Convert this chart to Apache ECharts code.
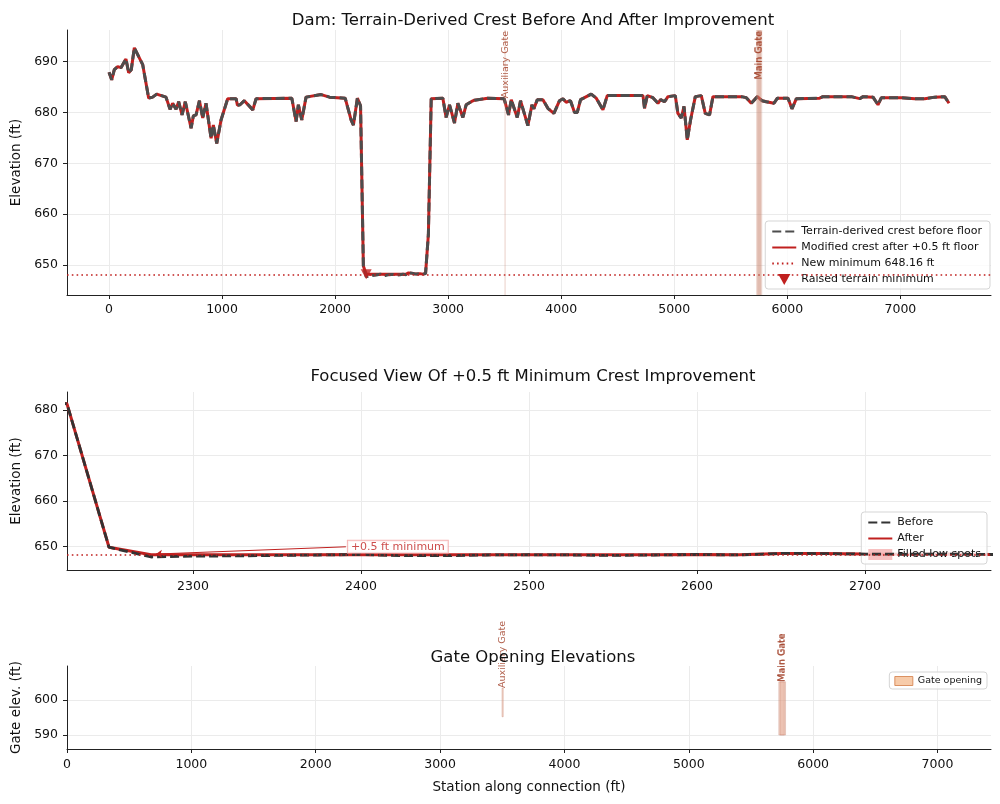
<!DOCTYPE html>
<html>
<head>
<meta charset="utf-8">
<script src="https://cdn.jsdelivr.net/npm/echarts@6.0.0/dist/echarts.min.js"></script>
<style>
  html, body { margin: 0; padding: 0; background: #fff; }
  #main { width: 1000px; height: 804px; }
</style>
</head>
<body>
<div id="main"></div>
<script>
// station along the connection (ft) and terrain-derived crest before the floor (ft)
var stations = [
    0, 24, 47, 77, 106, 150, 174, 197, 224, 298, 351, 386, 422, 504, 540, 563, 593, 616, 646, 675,
    726, 746, 770, 800, 829, 858, 903, 923, 953, 991, 1050, 1124, 1136, 1159, 1197, 1272, 1301, 1617, 1655, 1675,
    1705, 1743, 1876, 1950, 2089, 2142, 2162, 2197, 2225, 2250, 2275, 2300, 2325, 2350, 2375, 2400, 2425, 2450, 2475, 2500,
    2525, 2550, 2575, 2600, 2625, 2650, 2675, 2700, 2725, 2750, 2775, 2800, 2825, 2850, 2953, 2982, 3012, 3056, 3086, 3130,
    3159, 3204, 3233, 3351, 3495, 3534, 3558, 3611, 3640, 3705, 3741, 3758, 3788, 3838, 3882, 3935, 3985, 4015, 4044, 4082,
    4118, 4142, 4171, 4206, 4265, 4310, 4369, 4407, 4723, 4737, 4761, 4811, 4856, 4879, 4914, 4944, 5009, 5032, 5062, 5086,
    5115, 5144, 5186, 5239, 5274, 5312, 5342, 5593, 5637, 5681, 5735, 5776, 5814, 5882, 5912, 6006, 6041, 6080, 6286, 6315,
    6566, 6640, 6670, 6758, 6802, 6832, 7009, 7127, 7215, 7304, 7392, 7430
];
var crestBefore = [
    687.9, 686.4, 688.4, 689.0, 688.8, 690.5, 687.8, 688.4, 692.7, 689.4, 682.8, 683.0, 683.6, 683.0, 680.6, 681.8, 680.6, 682.1, 679.5, 682.1,
    676.9, 679.3, 679.5, 682.3, 678.9, 681.8, 674.9, 677.5, 673.9, 678.5, 682.7, 682.7, 681.4, 681.5, 682.3, 680.5, 682.7, 682.8, 678.2, 681.5,
    678.5, 683.0, 683.5, 683.0, 682.8, 678.5, 677.5, 682.8, 681.3, 649.8, 647.66, 647.85, 647.9, 648.0, 648.1, 648.2, 647.95, 647.95, 648.1, 648.15,
    648.1, 648.0, 648.1, 648.2, 648.1, 648.45, 648.4, 648.3, 648.25, 648.3, 648.2, 648.3, 656.0, 682.7, 682.8, 679.0, 681.5, 677.9, 681.8, 679.0,
    681.5, 682.1, 682.4, 682.8, 682.7, 679.5, 682.5, 679.0, 682.3, 677.4, 681.5, 680.7, 682.5, 682.5, 680.8, 679.8, 682.3, 682.7, 682.0, 682.3,
    680.0, 680.0, 682.5, 682.9, 683.6, 682.8, 680.5, 683.3, 683.3, 680.8, 683.3, 682.9, 681.8, 682.5, 682.1, 683.1, 683.3, 679.8, 678.9, 681.2,
    674.6, 678.5, 683.1, 683.3, 679.8, 679.5, 683.1, 683.1, 682.9, 681.8, 683.1, 682.3, 682.1, 681.8, 682.8, 682.8, 680.7, 682.7, 682.8, 683.1,
    683.1, 682.7, 683.1, 683.0, 681.5, 682.9, 682.9, 682.7, 682.7, 683.0, 683.1, 681.8
];

// low spots that were raised to the new floor
var newMinimum = 648.16;
var raisedStations = [2275, 2300, 2325, 2350, 2375, 2425, 2450, 2475, 2500, 2525, 2550, 2575, 2625];
var raisedMinStation = 2275;

// gate openings
var gateNames = ['Auxiliary Gate', 'Main Gate', 'Main Gate'];
var gateStart = [3498, 5724, 5734];
var gateEnd = [3503, 5768, 5778];
var gateBottom = [595.2, 590, 590];
var gateTop = [603.4, 605.2, 605.2];

// annotation in the focused view
var annotText = '+0.5 ft minimum';
var annotFrom = [2391, 649.9];
var annotTo = [2278, 648.3];

// tick labels
var topXTicks = [0, 1000, 2000, 3000, 4000, 5000, 6000, 7000];
var topYTicks = [650, 660, 670, 680, 690];
var focusXTicks = [2300, 2400, 2500, 2600, 2700];
var focusYTicks = [650, 660, 670, 680];
var gateXTicks = [0, 1000, 2000, 3000, 4000, 5000, 6000, 7000];
var gateYTicks = [590, 600];

var FONT = 'DejaVu Sans';
var RED = '#c0201f';
var GATE_TXT = '#a3432c';

var crestAfter = crestBefore.slice();
raisedStations.forEach(function (s) {
    var i = stations.indexOf(s);
    if (i >= 0) crestAfter[i] = newMinimum;
});

var beforeData = stations.map(function (s, i) { return [s, crestBefore[i]]; });
var afterData = stations.map(function (s, i) { return [s, crestAfter[i]]; });
var gateData = gateNames.map(function (n, i) { return [gateStart[i], gateEnd[i], gateBottom[i], gateTop[i]]; });

// filled low spots (stacked band between before and after)
var lowBase = [], lowDiff = [];
stations.forEach(function (s, i) {
    if (s >= 2225 && s <= 2800) {
        lowBase.push([s, crestBefore[i]]);
        lowDiff.push([s, +(crestAfter[i] - crestBefore[i]).toFixed(3)]);
    }
});

function plain(v) { return String(v); }

function xAxisCfg(idx, min, max, ticks, margin, extra) {
    var a = {
        type: 'value', gridIndex: idx, min: min, max: max,
        axisLine: { show: true, onZero: false, lineStyle: { color: '#222', width: 1 } },
        axisTick: { show: true, length: 4, customValues: ticks, lineStyle: { color: '#222' } },
        axisLabel: { customValues: ticks, formatter: plain, color: '#111', fontSize: 12.5, margin: margin, fontFamily: FONT },
        splitLine: { show: true, lineStyle: { color: '#ebebeb', width: 1 } }
    };
    return Object.assign(a, extra || {});
}
function yAxisCfg(idx, min, max, ticks, name) {
    return {
        type: 'value', gridIndex: idx, min: min, max: max,
        name: name, nameLocation: 'middle', nameGap: 44,
        nameTextStyle: { fontSize: 13.5, color: '#111', fontFamily: FONT },
        axisLine: { show: true, onZero: false, lineStyle: { color: '#222', width: 1 } },
        axisTick: { show: true, length: 4, customValues: ticks, lineStyle: { color: '#222' } },
        axisLabel: { customValues: ticks, formatter: plain, color: '#111', fontSize: 12.5, margin: 9, fontFamily: FONT },
        splitLine: { show: true, lineStyle: { color: '#ebebeb', width: 1 } }
    };
}

function renderGateBand(params, api) {
    var cs = params.coordSys;
    var x0 = api.coord([api.value(0), api.value(2)])[0];
    var x1 = api.coord([api.value(1), api.value(2)])[0];
    var w = Math.max(x1 - x0, 1.2);
    return {
        type: 'group',
        children: [
            { type: 'rect', shape: { x: x0, y: cs.y, width: w, height: cs.height },
              style: { fill: 'rgba(200,130,110,0.32)' } },
            { type: 'text', x: x0 + w / 2, y: cs.y + 1, rotation: Math.PI / 2,
              style: { text: gateNames[params.dataIndex], align: 'right', verticalAlign: 'middle',
                       fill: GATE_TXT, fontSize: 9.5, fontFamily: FONT, opacity: 0.85 } }
        ]
    };
}

function renderGateBar(params, api) {
    var p0 = api.coord([api.value(0), api.value(3)]);
    var p1 = api.coord([api.value(1), api.value(2)]);
    var w = Math.max(p1[0] - p0[0], 1.2);
    return {
        type: 'group',
        children: [
            { type: 'rect', shape: { x: p0[0], y: p0[1], width: w, height: p1[1] - p0[1] },
              style: { fill: 'rgba(225,160,135,0.4)', stroke: 'rgba(200,130,110,0.45)', lineWidth: 0.8 } },
            { type: 'text', x: p0[0] + w / 2, y: p0[1], rotation: Math.PI / 2,
              style: { text: gateNames[params.dataIndex], align: 'left', verticalAlign: 'middle',
                       fill: GATE_TXT, fontSize: 9.5, fontFamily: FONT, opacity: 0.85 } }
        ]
    };
}

var chart = echarts.init(document.getElementById('main'));

var titleStyle = { fontSize: 16.5, fontWeight: 'normal', color: '#111', fontFamily: FONT };
var legendBox = {
    orient: 'vertical', backgroundColor: 'rgba(255,255,255,0.8)',
    borderColor: '#d5d5d5', borderWidth: 1, borderRadius: 3
};

var option = {
    animation: false,
    backgroundColor: '#fff',
    textStyle: { fontFamily: FONT },
    title: [
        { text: 'Dam: Terrain-Derived Crest Before And After Improvement', left: 528, top: 7, textAlign: 'center', textStyle: titleStyle },
        { text: 'Focused View Of +0.5 ft Minimum Crest Improvement', left: 528, top: 363, textAlign: 'center', textStyle: titleStyle },
        { text: 'Gate Opening Elevations', left: 528, top: 644, textAlign: 'center', textStyle: titleStyle }
    ],
    legend: [
        Object.assign({}, legendBox, {
            right: 10, top: 221, padding: [5, 8, 4, 6], itemGap: 5,
            itemWidth: 24, itemHeight: 11,
            textStyle: { fontSize: 11, color: '#111', fontFamily: FONT },
            data: [
                'Terrain-derived crest before floor',
                'Modified crest after +0.5 ft floor',
                'New minimum 648.16 ft',
                { name: 'Raised terrain minimum', icon: 'path://M0,0L10,0L5,9Z', itemStyle: { opacity: 1 } }
            ]
        }),
        Object.assign({}, legendBox, {
            right: 13, top: 512, padding: [5, 6, 4, 6], itemGap: 5,
            itemWidth: 24, itemHeight: 11,
            textStyle: { fontSize: 11, color: '#111', fontFamily: FONT },
            data: ['Before', 'After',
                   { name: 'Filled low spots', icon: 'rect', itemStyle: { color: 'rgba(240,130,130,0.5)', opacity: 1 } }]
        }),
        Object.assign({}, legendBox, {
            right: 13, top: 672, padding: [4, 5, 3, 5],
            itemWidth: 18, itemHeight: 9,
            textStyle: { fontSize: 9.5, color: '#111', fontFamily: FONT },
            data: [{ name: 'Gate opening', icon: 'rect',
                     itemStyle: { color: 'rgba(244,185,140,0.75)', borderColor: 'rgba(215,135,85,0.9)', borderWidth: 1 } }]
        })
    ],
    grid: [
        { left: 67, right: 9, top: 30, height: 265 },
        { left: 67, right: 9, top: 392, height: 178 },
        { left: 67, right: 9, top: 666, height: 83 }
    ],
    xAxis: [
        xAxisCfg(0, -371.5, 7801.5, topXTicks, 8),
        xAxisCfg(1, 2225, 2775, focusXTicks, 10),
        xAxisCfg(2, 0, 7430, gateXTicks, 9, {
            name: 'Station along connection (ft)', nameLocation: 'middle', nameGap: 31,
            nameTextStyle: { fontSize: 13.5, color: '#111', fontFamily: FONT }
        })
    ],
    yAxis: [
        yAxisCfg(0, 644.1, 696.2, topYTicks, 'Elevation (ft)'),
        yAxisCfg(1, 644.8, 683.9, focusYTicks, 'Elevation (ft)'),
        yAxisCfg(2, 586, 609.7, gateYTicks, 'Gate elev. (ft)')
    ],
    series: [
        // ---- overview ----
        {
            name: 'New minimum 648.16 ft', type: 'line', xAxisIndex: 0, yAxisIndex: 0, data: [],
            symbol: 'none', lineStyle: { color: RED, width: 1.6, type: [1.6, 3.2] }, itemStyle: { color: RED, opacity: 0 },
            markLine: { silent: true, symbol: 'none', label: { show: false },
                        lineStyle: { color: RED, width: 1.6, type: [1.6, 3.2] },
                        data: [{ yAxis: newMinimum }] }
        },
        {
            name: 'Modified crest after +0.5 ft floor', type: 'line', xAxisIndex: 0, yAxisIndex: 0,
            data: afterData, symbol: 'none', z: 3,
            lineStyle: { color: RED, width: 3 }, itemStyle: { color: RED, opacity: 0 }
        },
        {
            name: 'Terrain-derived crest before floor', type: 'line', xAxisIndex: 0, yAxisIndex: 0,
            data: beforeData, symbol: 'none', z: 4,
            lineStyle: { color: '#4d4d4d', width: 3, type: [9, 4] }, itemStyle: { color: '#4d4d4d', opacity: 0 }
        },
        {
            name: 'Raised terrain minimum', type: 'scatter', xAxisIndex: 0, yAxisIndex: 0, z: 6,
            data: [[raisedMinStation, newMinimum]], symbol: 'path://M0,0L10,0L5,9Z', symbolSize: [11, 10],
            itemStyle: { color: RED }
        },
        {
            type: 'custom', xAxisIndex: 0, yAxisIndex: 0, z: 5, silent: true,
            data: gateData, encode: { x: [0, 1], y: [2, 3] }, renderItem: renderGateBand
        },
        // ---- focused view ----
        {
            type: 'line', xAxisIndex: 1, yAxisIndex: 1, data: [], symbol: 'none', silent: true,
            markLine: { silent: true, symbol: 'none', label: { show: false },
                        lineStyle: { color: RED, width: 1.6, type: [1.6, 3.2] },
                        data: [{ yAxis: newMinimum }] }
        },
        {
            type: 'line', xAxisIndex: 1, yAxisIndex: 1, data: lowBase, stack: 'fill', symbol: 'none', silent: true,
            lineStyle: { opacity: 0 }
        },
        {
            name: 'Filled low spots', type: 'line', xAxisIndex: 1, yAxisIndex: 1, data: lowDiff, stack: 'fill',
            symbol: 'none', lineStyle: { opacity: 0 }, itemStyle: { color: 'rgba(240,130,130,0.5)' },
            areaStyle: { color: 'rgba(240,130,130,0.45)', origin: 'start' }
        },
        {
            name: 'After', type: 'line', xAxisIndex: 1, yAxisIndex: 1, data: afterData, symbol: 'none', z: 3,
            lineStyle: { color: RED, width: 3 }, itemStyle: { color: RED, opacity: 0 }
        },
        {
            name: 'Before', type: 'line', xAxisIndex: 1, yAxisIndex: 1, data: beforeData, symbol: 'none', z: 4,
            lineStyle: { color: '#333', width: 2.8, type: [9, 4] }, itemStyle: { color: '#333', opacity: 0 }
        },
        {
            type: 'scatter', xAxisIndex: 1, yAxisIndex: 1, z: 7, silent: true,
            data: [annotFrom], symbolSize: 0,
            label: { show: true, position: 'right', distance: 2, formatter: annotText,
                     color: RED, fontSize: 11, fontFamily: FONT, backgroundColor: '#fff',
                     borderColor: '#f2a3a3', borderWidth: 1, padding: [1, 3, 0, 3] },
            markLine: { silent: true, symbol: ['none', 'arrow'], symbolSize: 6, label: { show: false },
                        lineStyle: { color: RED, width: 1, type: 'solid' },
                        data: [[{ coord: annotFrom }, { coord: annotTo }]] }
        },
        // ---- gate openings ----
        {
            name: 'Gate opening', type: 'custom', xAxisIndex: 2, yAxisIndex: 2, silent: true,
            itemStyle: { color: 'rgba(244,185,140,0.75)' },
            data: gateData, encode: { x: [0, 1], y: [2, 3] }, renderItem: renderGateBar
        }
    ]
};

chart.setOption(option);
</script>
</body>
</html>
